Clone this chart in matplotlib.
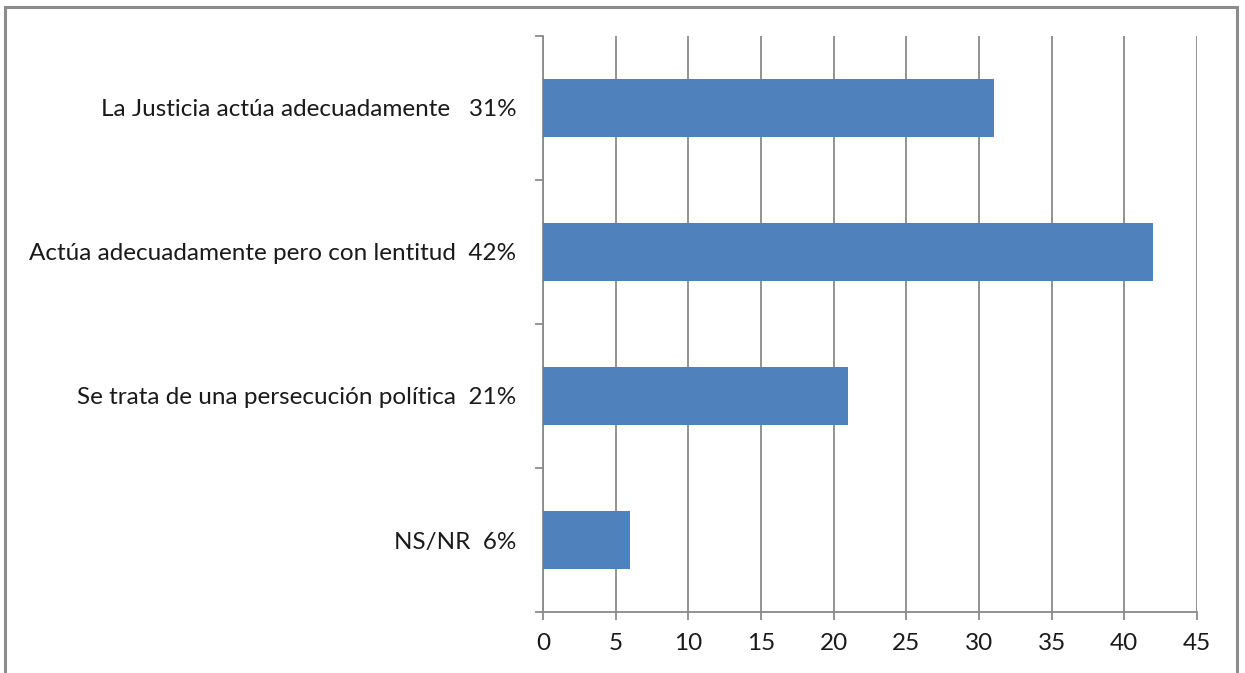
import matplotlib
matplotlib.use('Agg')
import matplotlib.pyplot as plt
from matplotlib.patches import Rectangle

# Data
categories = ['La Justicia actúa adecuadamente   31%',
              'Actúa adecuadamente pero con lentitud  42%',
              'Se trata de una persecución política  21%',
              'NS/NR  6%']
values = [31, 42, 21, 6]
xticks = [0, 5, 10, 15, 20, 25, 30, 35, 40, 45]

plt.rcParams['font.family'] = ['Lato', 'DejaVu Sans']

fig = plt.figure(figsize=(12.45, 6.73), dpi=100)
ax = fig.add_axes([543 / 1245, 1 - 612 / 673, (1197 - 543) / 1245, (612 - 36) / 673])

ypos = list(range(len(categories)))[::-1]
ax.barh(ypos, values, height=0.4, color='#4F81BD', zorder=3)

ax.set_xlim(0, 45)
ax.set_ylim(-0.5, len(categories) - 0.5)
ax.set_xticks(xticks)
ax.set_xticklabels([str(t) for t in xticks])
ax.set_yticks(ypos)
ax.set_yticklabels(categories)
ax.set_yticks([i - 0.5 for i in range(len(categories) + 1)], minor=True)

grey = '#8a8a8a'
ax.grid(axis='x', color=grey, linewidth=1.3, zorder=0)
for s in ['top', 'right']:
    ax.spines[s].set_visible(False)
for s in ['left', 'bottom']:
    ax.spines[s].set_color(grey)
    ax.spines[s].set_linewidth(1.3)

ax.tick_params(axis='y', which='major', length=0, pad=19, labelsize=17.5, labelcolor='#1a1a1a')
ax.tick_params(axis='y', which='minor', length=6, width=1.3, color=grey)
ax.tick_params(axis='x', length=6, width=1.3, color=grey, labelsize=17.5, labelcolor='#1a1a1a', pad=9)

# outer frame
fig.patches.append(Rectangle((5 / 1245, -0.02), (1237 - 5) / 1245, 1 - 7 / 673 + 0.02,
                             transform=fig.transFigure, fill=False,
                             edgecolor='#8c8c8c', linewidth=2.2))

fig.savefig('out.png', dpi=100)
